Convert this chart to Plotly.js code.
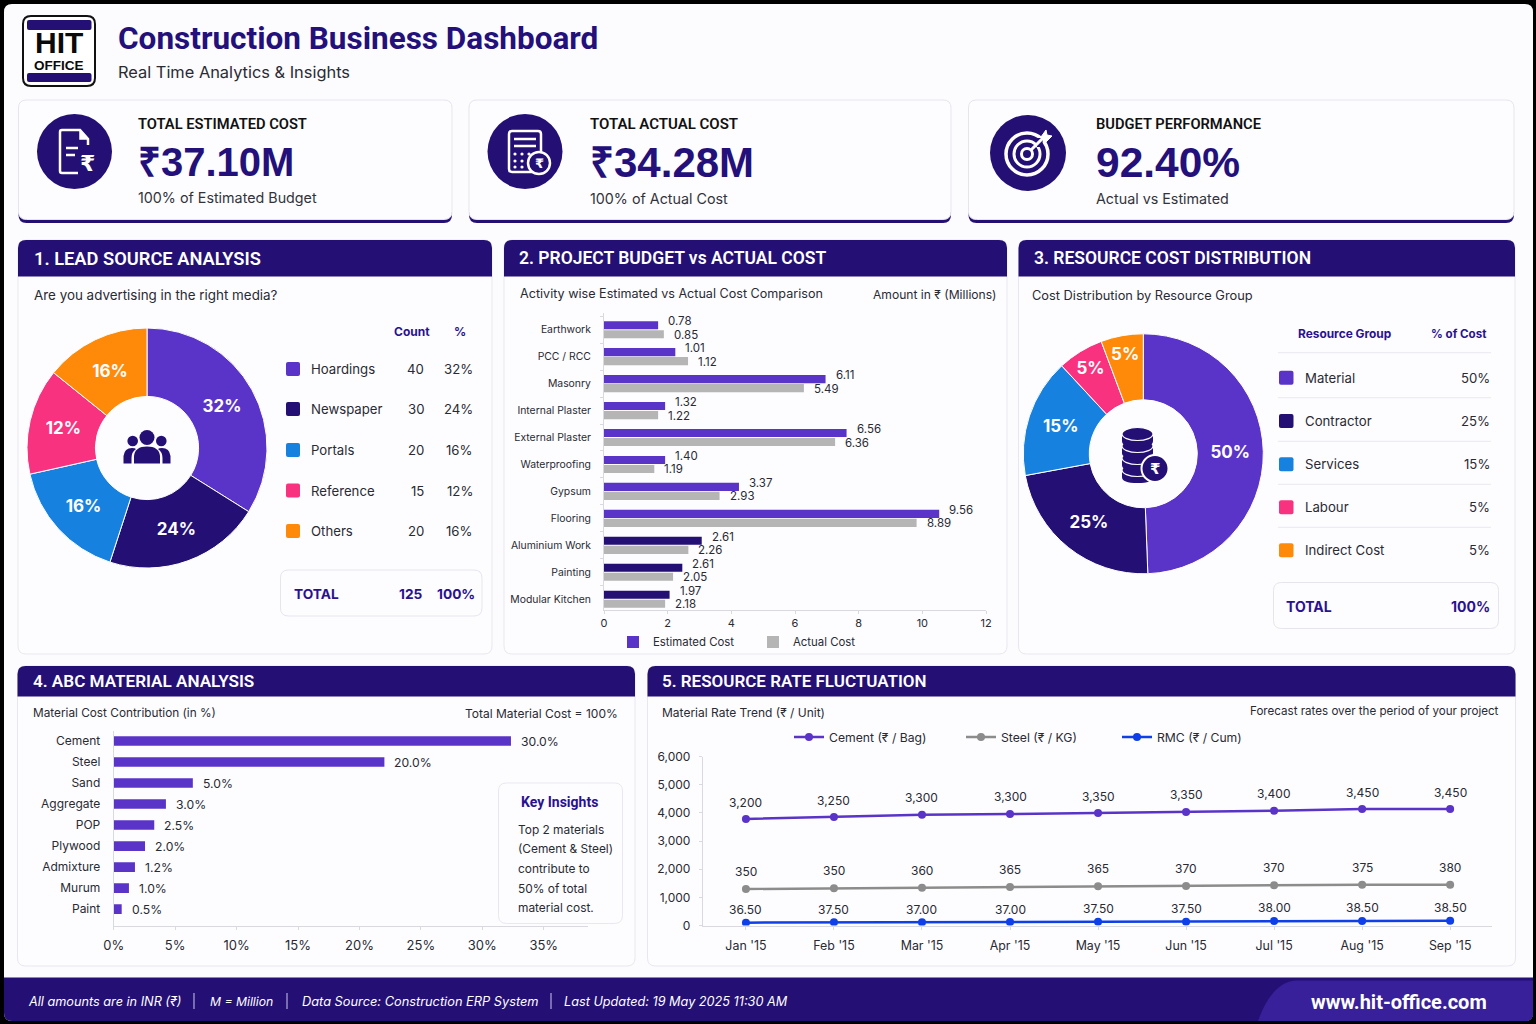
<!DOCTYPE html>
<html><head><meta charset="utf-8">
<script src="https://cdn.plot.ly/plotly-3.0.1.min.js"></script>
<style>html,body{margin:0;padding:0;background:#000}#c{width:1536px;height:1024px}</style>
</head><body><div id="c"></div>
<script>
// ---------- DATA ----------
const leadSources=['Hoardings','Newspaper','Portals','Reference','Others'];
const leadCounts=[40,30,20,15,20];
const leadPct=['32%','24%','16%','12%','16%'];
const leadSliceShares=[33.9,21.1,16.5,14.3,14.2];
const resourceGroups=['Material','Contractor','Services','Labour','Indirect Cost'];
const resourcePct=['50%','25%','15%','5%','5%'];
const resourceSliceShares=[49.4,22.7,16.0,6.2,5.7];
const activities=['Earthwork','PCC / RCC','Masonry','Internal Plaster','External Plaster','Waterproofing','Gypsum','Flooring','Aluminium Work','Painting','Modular Kitchen'];
const estimatedBars=[1.70,2.24,6.96,1.92,7.62,1.92,4.24,10.53,3.07,2.46,2.06];
const actualBars=[1.88,2.64,6.28,1.70,7.26,1.58,3.63,9.82,2.65,2.17,1.92];
const estimatedLabels=['0.78','1.01','6.11','1.32','6.56','1.40','3.37','9.56','2.61','2.61','1.97'];
const actualLabels=['0.85','1.12','5.49','1.22','6.36','1.19','2.93','8.89','2.26','2.05','2.18'];
const materials=['Cement','Steel','Sand','Aggregate','POP','Plywood','Admixture','Murum','Paint'];
const materialBars=[32.33,22.03,6.44,4.25,3.30,2.55,1.73,1.24,0.65];
const materialLabels=['30.0%','20.0%','5.0%','3.0%','2.5%','2.0%','1.2%','1.0%','0.5%'];
const months=["Jan '15","Feb '15","Mar '15","Apr '15","May '15","Jun '15","Jul '15","Aug '15","Sep '15"];
const cementLine=[3781,3852,3935,3959,3994,4030,4077,4136,4136];
const steelLine=[1296,1320,1343,1367,1391,1402,1426,1450,1450];
const rmcLine=[101,112,112,124,136,136,160,160,172];
const cementLabels=['3,200','3,250','3,300','3,300','3,350','3,350','3,400','3,450','3,450'];
const steelLabels=['350','350','360','365','365','370','370','375','380'];
const rmcLabels=['36.50','37.50','37.00','37.00','37.50','37.50','38.00','38.50','38.50'];

// ---------- STYLE ----------
const NAVY='#240f74',PURPLE='#5a34c8',BLUE='#1781e0',PINK='#f93280',ORANGE='#ff8a0a',GREY='#b5b5b5',INK='#2a2a33',HEAD='#2a1190';
const sliceColors=[PURPLE,NAVY,BLUE,PINK,ORANGE];
const F='Inter, sans-serif',H='Roboto, sans-serif',L='Liberation Sans, sans-serif';
const X=p=>p/1536,Y=p=>1-p/1024;
const shapes=[],ann=[];
function pathPx(s){return s.replace(/([MLQC])([^MLQCZ]*)/g,(m,c,a)=>{const n=a.trim().split(/[\s,]+/).map(Number);
  return c+n.map((v,i)=>(i%2?Y(v):X(v)).toFixed(6)).join(' ')+' ';});}
function rr(x0,y0,x1,y1,r){return `M${x0+r} ${y0} L${x1-r} ${y0} Q${x1} ${y0} ${x1} ${y0+r} L${x1} ${y1-r} Q${x1} ${y1} ${x1-r} ${y1} L${x0+r} ${y1} Q${x0} ${y1} ${x0} ${y1-r} L${x0} ${y0+r} Q${x0} ${y0} ${x0+r} ${y0} Z`;}
function topR(x0,y0,x1,y1,r){return `M${x0} ${y1} L${x0} ${y0+r} Q${x0} ${y0} ${x0+r} ${y0} L${x1-r} ${y0} Q${x1} ${y0} ${x1} ${y0+r} L${x1} ${y1} Z`;}
function P(d,fill,line,lw,layer){shapes.push({type:'path',xref:'paper',yref:'paper',path:pathPx(d),fillcolor:fill||'rgba(0,0,0,0)',line:{color:line||'rgba(0,0,0,0)',width:lw||0},layer:layer||'below'});}
function C(cx,cy,rx,ry,fill,line,lw,layer){shapes.push({type:'circle',xref:'paper',yref:'paper',x0:X(cx-rx),x1:X(cx+rx),y0:Y(cy+ry),y1:Y(cy-ry),fillcolor:fill||'rgba(0,0,0,0)',line:{color:line||'rgba(0,0,0,0)',width:lw||0},layer:layer||'below'});}
function T(x,y,text,size,color,o){o=o||{};const a=o.a||'left';const nudge=a==='left'?-1:(a==='right'?1:0);
  ann.push({xref:'paper',yref:'paper',x:X(x+nudge),y:Y(y),text:text,showarrow:false,xanchor:a,yanchor:'middle',borderpad:0,
  font:{family:o.f||F,size:size,color:color,weight:o.w||400,style:o.i?'italic':'normal'}});}
function AL(xr,yr,x,y,text,size,xs,ys,a){ann.push({xref:xr,yref:yr,x:x,y:y,text:text,showarrow:false,xanchor:a||'left',yanchor:'middle',xshift:xs,yshift:ys,borderpad:0,font:{family:F,size:size,color:INK}});}

// ---------- FRAME ----------
P(rr(4,4,1533,1021,8),'#fcfcfe');
// logo
P(rr(23,16,95,86,8),'#fff','#111',2);
P(rr(27,20,91.5,30,2),NAVY); P(rr(27,73,91.5,82,2),NAVY);
T(59,42.5,'HIT',30,'#0a0a0a',{a:'center',f:L,w:700});
T(59,65,'OFFICE',13.5,'#0a0a0a',{a:'center',f:L,w:700});
T(118,38,'Construction Business Dashboard',31.5,'#24107a',{f:H,w:700});
T(118,72,'Real Time Analytics & Insights',16.4,'#2a2a33');

// KPI cards
function card(x0,x1,cx,cy,r,tx,label,lSize,value,vSize,sub){
  P(rr(x0,206,x1,223,8),NAVY);
  P(rr(x0,100,x1,219.5,8),'#fdfdff','#e6e5ee',1);
  C(cx,cy,r,r,NAVY);
  T(tx,124,label,lSize,'#111',{f:H,w:600});
  T(tx,162,value,vSize,'#24107a',{f:L,w:700});
  T(tx,198,sub,14.3,'#33333b');
}
card(18.5,452,74.5,151.5,37.5,138,'TOTAL ESTIMATED COST',14.7,'₹37.10M',40,'100% of Estimated Budget');
card(469,951,525,151.5,37.5,590,'TOTAL ACTUAL COST',15,'₹34.28M',42,'100% of Actual Cost');
card(968.5,1514,1028,153,38,1096,'BUDGET PERFORMANCE',14.7,'92.40%',42.5,'Actual vs Estimated');
// doc icon
P('M88 145 L88 139 L80 130 L62 130 Q60 130 60 132 L60 171 Q60 173 62 173 L78 173','rgba(0,0,0,0)','#fff',2.5,'above');
P('M80 130 L80 139 L88 139','#fff','#fff',1.5,'above');
P('M66 148 L78 148 M66 155 L75 155','rgba(0,0,0,0)','#fff',2.5,'above');
T(87,163,'₹',22,'#fff',{a:'center',f:'DejaVu Sans',w:700});
// calculator icon
P(rr(509,131,541,172,3),'rgba(0,0,0,0)','#fff',2.5,'above');
P('M514 139 L536 139 M514 146 L536 146','rgba(0,0,0,0)','#fff',2.5,'above');
[[515,154],[522,154],[529,154],[515,161],[522,161],[515,167],[522,167]].forEach(d=>C(d[0],d[1],1.6,1.6,'#fff',null,0,'above'));
C(539,163,11,11,NAVY,'#fff',2.5,'above');
T(539,163,'₹',13,'#fff',{a:'center',f:'DejaVu Sans',w:700});
// target icon
C(1027,154,21,21,null,'#fff',3.5,'above');C(1027,154,13,13,null,'#fff',3,'above');C(1027,154,5.5,5.5,null,'#fff',3,'above');
P('M1035 138 L1043 138 L1042 147 L1037 147 Z',NAVY,null,0,'above');
P('M1031 150 L1044 137','rgba(0,0,0,0)','#fff',3,'above');
P('M1041 137 L1046 130 L1047 135 L1052 136 L1046 142 Z','#fff','#fff',1,'above');

// Panels
function panel(x0,x1,y0,y1,yH,title,tx,size){
  P(rr(x0,y0,x1,y1,8),'#fdfdff','#e8e7ef',1);
  P(topR(x0,y0,x1,yH,8),NAVY);
  T(tx,(y0+yH)/2,title,size,'#fff',{f:H,w:600});
}
panel(18,492,240,654,276.5,'1. LEAD SOURCE ANALYSIS',34,18.3);
panel(504,1007,240,654,276.5,'2. PROJECT BUDGET vs ACTUAL COST',519,17.5);
panel(1018.5,1515,240,654,276.5,'3. RESOURCE COST DISTRIBUTION',1034,17.5);
panel(17.5,635,666,966,696.5,'4. ABC MATERIAL ANALYSIS',33,17.1);
panel(647.5,1515.5,666,966,696.5,'5. RESOURCE RATE FLUCTUATION',662,17);

// Panel 1 text/table
T(34,295,'Are you advertising in the right media?',13.4,INK);
T(412,331,'Count',12,HEAD,{a:'center',w:700});
T(460,331,'%',12,HEAD,{a:'center',w:700});
const leadRows=[369,409,450,490.5,531];
leadSources.forEach((s,i)=>{const y=leadRows[i];
  P(rr(286,y-7,300,y+7,2),sliceColors[i]);
  T(311,y,s,13.2,INK);T(424,y,String(leadCounts[i]),13.2,INK,{a:'right'});T(473,y,leadPct[i],13.2,INK,{a:'right'});});
P(rr(280.5,570,482,616,8),'#fdfdff','#e6e5ee',1);
T(294,594,'TOTAL',13.7,HEAD,{w:700});T(423,594,'125',13.7,HEAD,{a:'right',w:700});T(475,594,'100%',13.7,HEAD,{a:'right',w:700});
// people icon
C(147,437.5,7.5,7.5,NAVY,null,0,'above');C(132.7,441,5.3,5.3,NAVY,null,0,'above');C(161.3,441,5.3,5.3,NAVY,null,0,'above');
P('M134 463.5 L134 456 Q135 446.5 147 446.5 Q159 446.5 160 456 L160 463.5 Z',NAVY,null,0,'above');
P('M123.5 463.5 L123.5 456 Q124.5 448 132 448 Q135 448 136 449 Q131.5 452 131.5 458 L131.5 463.5 Z',NAVY,null,0,'above');
P('M170.5 463.5 L170.5 456 Q169.5 448 162 448 Q159 448 158 449 Q162.5 452 162.5 458 L162.5 463.5 Z',NAVY,null,0,'above');

// Panel 2 text
T(520,293.5,'Activity wise Estimated vs Actual Cost Comparison',12.6,INK);
T(997,294.5,'Amount in ₹ (Millions)',12.1,INK,{a:'right'});

// Panel 3 text/table
T(1032,295,'Cost Distribution by Resource Group',12.8,INK);
T(1297.5,333.5,'Resource Group',11.9,HEAD,{w:700});T(1487,333.5,'% of Cost',11.6,HEAD,{a:'right',w:700});
[352.7,397.7,441.3,484.3,527.3].forEach(y=>P(`M1278 ${y} L1491 ${y}`,null,'#e9e8f0',1));
const resRows=[377.7,421,464.3,507.3,550.3];
resourceGroups.forEach((s,i)=>{const y=resRows[i];
  P(rr(1279,y-7,1293.5,y+7,2),sliceColors[i]);
  T(1304.5,y,s,13.2,INK);T(1490,y,resourcePct[i],13.2,INK,{a:'right'});});
P(rr(1273.5,582.5,1498.5,628.5,8),'#fdfdff','#e6e5ee',1);
T(1286,606,'TOTAL',14,HEAD,{w:700});T(1490,606,'100%',14,HEAD,{a:'right',w:700});
// coins icon
[475,463,451,439].forEach(y=>{
  P(`M1122 ${y-5} L1122 ${y+2} Q1122 ${y+8} 1137.5 ${y+8} Q1153 ${y+8} 1153 ${y+2} L1153 ${y-5} Z`,NAVY,null,0,'above');
  C(1137.5,y-5,15.5,6.5,NAVY,'#fff',1.2,'above');});
C(1155,468.5,13.5,13.5,NAVY,'#fff',2,'above');
T(1155,468.5,'₹',15,'#fff',{a:'center',f:'DejaVu Sans',w:700});

// Panel 4 text
T(33,713,'Material Cost Contribution (in %)',11.8,INK);
T(617.5,713,'Total Material Cost = 100%',12,INK,{a:'right'});
// Panel 5 text
T(662,712.5,'Material Rate Trend (₹ / Unit)',12,INK);
T(1499,711,'Forecast rates over the period of your project',11.6,INK,{a:'right'});

// Footer
P('M4 977.5 L1533 977.5 L1533 1013 Q1533 1021 1525 1021 L12 1021 Q4 1021 4 1013 Z',NAVY,null,0,'above');
P('M1258 1021 Q1272 982 1296 980.5 L1533 980.5 L1533 1013 Q1533 1021 1525 1021 Z','#37209a',null,0,'above');
T(28,1001,'All amounts are in INR (₹)',12.7,'#fff',{i:1});
T(210,1001,'M = Million',12.2,'#fff',{i:1});
T(302,1001,'Data Source: Construction ERP System',12.8,'#fff',{i:1});
T(564,1001,'Last Updated: 19 May 2025 11:30 AM',12.7,'#fff',{i:1});
[194,287,551].forEach(x=>P(`M${x} 993 L${x} 1009`,null,'#cfc9ee',1,'above'));
T(1487,1002,'www.hit-office.com',20,'#fff',{a:'right',f:H,w:700});

// Key insights (above the ABC axis line)
P(rr(498.5,783,622.5,923.5,8),'#fdfdff','#e9e8f0',1,'above');
T(559,802,'Key Insights',14,HEAD,{a:'center',w:700,f:H});
['Top 2 materials','(Cement & Steel)','contribute to','50% of total','material cost.'].forEach((s,i)=>T(518,[829,848,868,888,907][i],s,11.9,INK));

// Bar labels via axes
activities.forEach((a,i)=>{
  AL('x','y',estimatedBars[i],a,estimatedLabels[i],11.5,9,8.5);
  AL('x','y',actualBars[i],a,actualLabels[i],11.5,9,-5);
});
materials.forEach((m,i)=>AL('x2','y2',materialBars[i],m,materialLabels[i],12.2,9,0));
months.forEach((m,i)=>{
  AL('x3','y3',m,cementLine[i],cementLabels[i],12,0,17,'center');
  AL('x3','y3',m,steelLine[i],steelLabels[i],12,0,17.5,'center');
  AL('x3','y3',m,rmcLine[i],rmcLabels[i],12,0,13,'center');
});

// ---------- TRACES ----------
const estColors=activities.map((a,i)=>i>=8?NAVY:PURPLE);
const pieBase={type:'pie',sort:false,direction:'clockwise',rotation:0,textinfo:'text',textposition:'inside',insidetextorientation:'horizontal',
  textfont:{family:F,size:17,color:'#fff',weight:700},marker:{colors:sliceColors,line:{color:'#ffffff',width:1}},showlegend:false,hoverinfo:'skip'};
const data=[
 Object.assign({},pieBase,{labels:leadSources,values:leadSliceShares,text:leadPct,hole:.43,
   domain:{x:[X(147-120),X(147+120)],y:[Y(448+120),Y(448-120)]}}),
 Object.assign({},pieBase,{labels:resourceGroups,values:resourceSliceShares,text:resourcePct,hole:.45,
   domain:{x:[X(1143.3-120),X(1143.3+120)],y:[Y(453.8+120),Y(453.8-120)]}}),
 {type:'bar',orientation:'h',name:'Estimated Cost',y:activities,x:estimatedBars,marker:{color:estColors},xaxis:'x',yaxis:'y',legend:'legend'},
 {type:'bar',orientation:'h',name:'Actual Cost',y:activities,x:actualBars,marker:{color:GREY},xaxis:'x',yaxis:'y',legend:'legend'},
 {type:'bar',orientation:'h',y:materials,x:materialBars,marker:{color:PURPLE},xaxis:'x2',yaxis:'y2',showlegend:false,width:.46},
 {type:'scatter',mode:'lines+markers',name:'Cement (₹ / Bag)',x:months,y:cementLine,line:{color:PURPLE,width:2.5},marker:{color:PURPLE,size:8},xaxis:'x3',yaxis:'y3',legend:'legend2'},
 {type:'scatter',mode:'lines+markers',name:'Steel (₹ / KG)',x:months,y:steelLine,line:{color:'#8c8c8c',width:2.5},marker:{color:'#8c8c8c',size:8},xaxis:'x3',yaxis:'y3',legend:'legend3'},
 {type:'scatter',mode:'lines+markers',name:'RMC (₹ / Cum)',x:months,y:rmcLine,line:{color:'#0f3fe8',width:2.5},marker:{color:'#0f3fe8',size:8},xaxis:'x3',yaxis:'y3',legend:'legend4'}
];
const axLine={showline:true,linecolor:'#d9d9e0',linewidth:1,showgrid:false,zeroline:false,automargin:false,ticks:'outside',ticklen:3,tickcolor:'#d9d9e0',fixedrange:true};
const lineLegend=x=>({orientation:'h',x:X(x),y:Y(737),xanchor:'left',yanchor:'middle',bgcolor:'rgba(0,0,0,0)',font:{family:F,size:12.2,color:INK}});
const layout={width:1536,height:1024,autosize:false,margin:{l:0,r:0,t:0,b:0,pad:0},paper_bgcolor:'#000',plot_bgcolor:'rgba(0,0,0,0)',
 showlegend:true,barmode:'group',bargap:.33,bargroupgap:.1,font:{family:F,color:INK},hovermode:false,
 xaxis:Object.assign({},axLine,{domain:[X(604),X(986)],range:[0,12],dtick:2,anchor:'y',tickfont:{size:11,color:INK}}),
 yaxis:Object.assign({},axLine,{domain:[Y(610),Y(313)],type:'category',categoryorder:'array',categoryarray:activities,range:[10.4,-0.62],tickson:'boundaries',anchor:'x',ticklabelstandoff:10,tickfont:{size:10.4,color:INK}}),
 xaxis2:Object.assign({},axLine,{domain:[X(113.7),X(588)],range:[0,38.6],tickvals:[0,5,10,15,20,25,30,35],ticktext:['0%','5%','10%','15%','20%','25%','30%','35%'],anchor:'y2',ticklabelstandoff:4,tickfont:{size:13,color:INK}}),
 yaxis2:Object.assign({},axLine,{domain:[Y(926.3),Y(730.5)],type:'category',categoryorder:'array',categoryarray:materials,range:[8.82,-0.5],anchor:'x2',ticks:'',ticklabelstandoff:10,tickfont:{size:12,color:INK}}),
 xaxis3:Object.assign({},axLine,{domain:[X(702.8),X(1492.4)],type:'category',categoryorder:'array',categoryarray:months,range:[-0.49,8.48],anchor:'y3',ticklabelstandoff:6,tickfont:{size:12.4,color:INK}}),
 yaxis3:Object.assign({},axLine,{domain:[Y(925.5),Y(756.5)],range:[0,6000],dtick:1000,tickformat:',d',anchor:'x3',ticklabelstandoff:6,tickfont:{size:12,color:INK}}),
 legend:{orientation:'h',x:X(613),y:Y(642),xanchor:'left',yanchor:'middle',bgcolor:'rgba(0,0,0,0)',entrywidth:95,entrywidthmode:'pixels',font:{family:F,size:11.4,color:INK},traceorder:'normal'},
 legend2:lineLegend(789),legend3:lineLegend(961),legend4:lineLegend(1117),
 shapes:shapes,annotations:ann};
Plotly.newPlot('c',data,layout,{displayModeBar:false,staticPlot:true});
</script></body></html>
